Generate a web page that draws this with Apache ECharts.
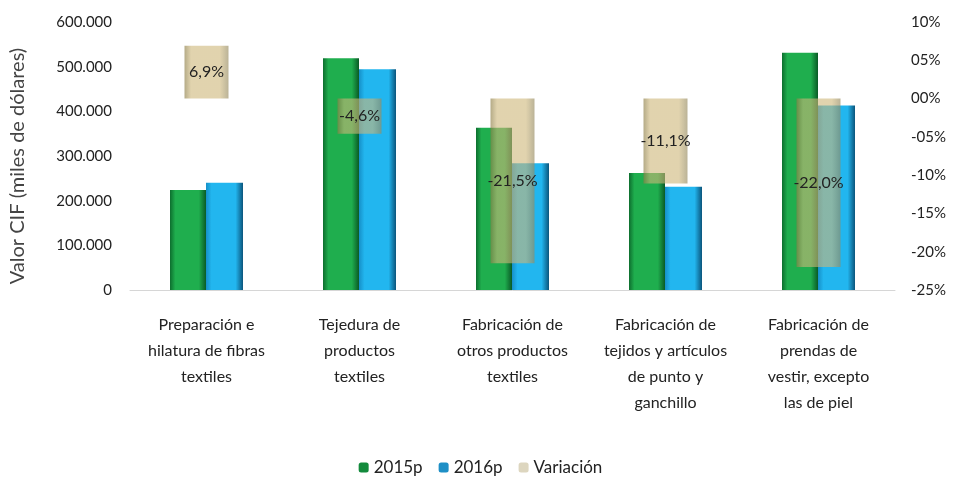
<!DOCTYPE html>
<html>
<head>
<meta charset="utf-8">
<script src="https://cdn.jsdelivr.net/npm/echarts@6/dist/echarts.min.js"></script>
<style>
  html, body { margin: 0; padding: 0; background: #fff; }
  #chart { width: 961px; height: 485px; }
</style>
</head>
<body>
<div id="chart"></div>
<script>
const categories = [
  'Preparación e\nhilatura de fibras\ntextiles',
  'Tejedura de\nproductos\ntextiles',
  'Fabricación de\notros productos\ntextiles',
  'Fabricación de\ntejidos y artículos\nde punto y\nganchillo',
  'Fabricación de\nprendas de\nvestir, excepto\nlas de piel'
]
const values2015 = [224000, 519000, 363000, 262000, 531000]
const values2016 = [240000, 494000, 284000, 231000, 413000]
const variacion = [6.9, -4.6, -21.5, -11.1, -22.0]

const FONT = 'Lato, "Open Sans", sans-serif'

// relleno con efecto de bisel, como el original
const bevel = (left, mid, right) => ({
  type: 'linear', x: 0, y: 0, x2: 1, y2: 0,
  colorStops: [
    { offset: 0, color: left },
    { offset: 0.15, color: mid },
    { offset: 0.8, color: mid },
    { offset: 1, color: right }
  ]
})

const thousands = v => String(v).replace(/\B(?=(\d{3})+(?!\d))/g, '.')
const pct = v => {
  const a = Math.abs(v)
  return (v < 0 ? '-' : '') + (a < 10 ? '0' + a : a) + '%'
}

const myChart = echarts.init(document.getElementById('chart'), null, { renderer: 'canvas' })

const option = {
  animation: false,
  textStyle: { fontFamily: FONT },
  legend: {
    bottom: 4,
    left: 'center',
    itemWidth: 10,
    itemHeight: 10,
    itemGap: 16,
    textStyle: { fontSize: 17, color: '#222', fontFamily: FONT },
    data: [
      { name: '2015p', itemStyle: { color: '#138a3c' } },
      { name: '2016p', itemStyle: { color: '#1e8fc6' } },
      { name: 'Variación', itemStyle: { color: '#ddd6bf' } }
    ]
  },
  grid: { left: 128, right: 66, top: 22, bottom: 195 },
  xAxis: [
    {
      type: 'category',
      data: categories,
      axisLine: { show: true, lineStyle: { color: '#d6d6d6', width: 1 } },
      axisTick: { show: false },
      axisLabel: {
        interval: 0,
        margin: 22,
        color: '#222',
        fontSize: 16,
        lineHeight: 26,
        fontFamily: FONT
      }
    },
    {
      type: 'category',
      data: categories,
      show: false
    }
  ],
  yAxis: [
    {
      type: 'value',
      min: 0,
      max: 600000,
      interval: 100000,
      name: 'Valor CIF (miles de dólares)',
      nameLocation: 'middle',
      nameGap: 102,
      nameRotate: 90,
      nameTextStyle: { fontSize: 20, color: '#444', fontFamily: FONT, padding: [0, 20, 0, 0] },
      axisLine: { show: false },
      axisTick: { show: false },
      splitLine: { show: false },
      axisLabel: {
        color: '#222',
        fontSize: 15,
        margin: 18,
        fontFamily: FONT,
        formatter: thousands
      }
    },
    {
      type: 'value',
      min: -25,
      max: 10,
      interval: 5,
      position: 'right',
      axisLine: { show: false },
      axisTick: { show: false },
      splitLine: { show: false },
      axisLabel: {
        color: '#222',
        fontSize: 15,
        margin: 16,
        fontFamily: FONT,
        formatter: pct
      }
    }
  ],
  series: [
    {
      name: '2015p',
      type: 'bar',
      data: values2015,
      barWidth: 36,
      barGap: '0%',
      itemStyle: { color: bevel('#0d6e2e', '#1fae4e', '#0a5a26') }
    },
    {
      name: '2016p',
      type: 'bar',
      data: values2016,
      barWidth: 37,
      itemStyle: { color: bevel('#1690c8', '#22b6ef', '#0b557c') }
    },
    {
      name: 'Variación',
      type: 'bar',
      xAxisIndex: 1,
      yAxisIndex: 1,
      data: variacion,
      barWidth: 44,
      z: 5,
      itemStyle: {
        color: bevel('rgba(140,125,70,0.65)', 'rgba(205,182,120,0.6)', 'rgba(150,138,95,0.65)')
      },
      label: {
        show: true,
        position: 'inside',
        color: '#222',
        fontSize: 16,
        fontFamily: FONT,
        formatter: p => p.value.toFixed(1).replace('.', ',') + '%'
      }
    }
  ]
}

myChart.setOption(option, true)
</script>
</body>
</html>
